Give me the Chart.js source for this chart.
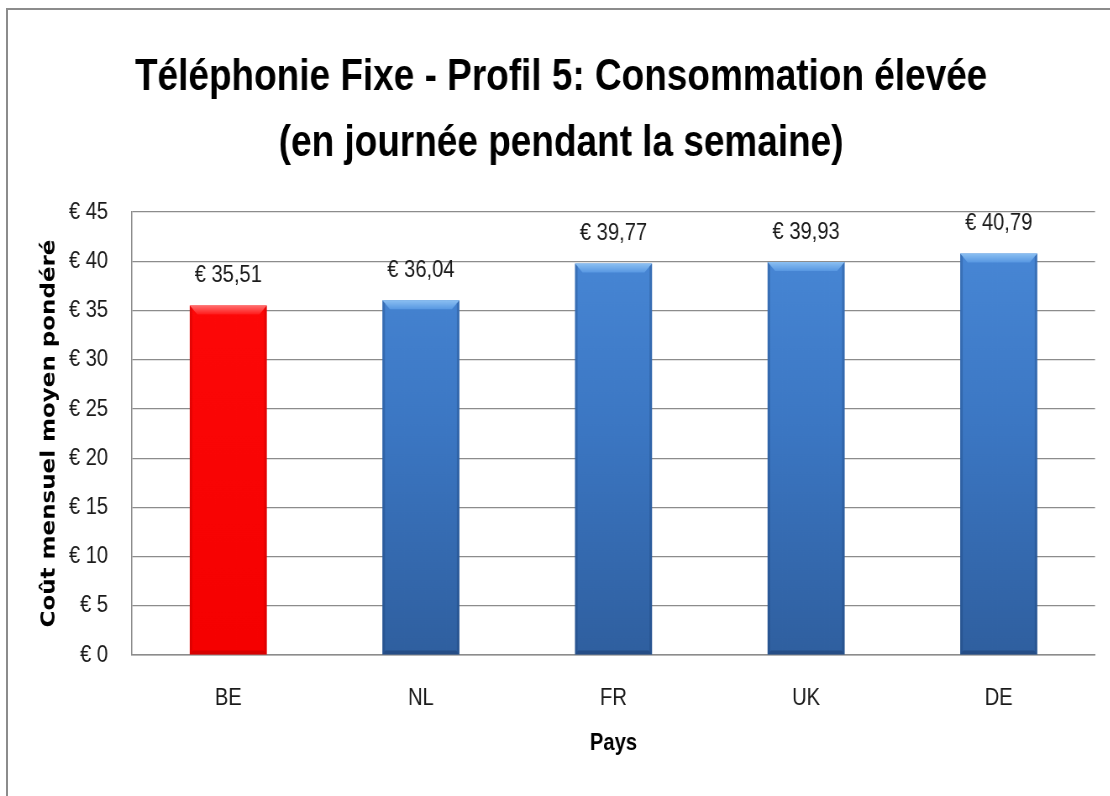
<!DOCTYPE html>
<html>
<head>
<meta charset="utf-8">
<script src="https://cdn.jsdelivr.net/npm/chart.js@4/dist/chart.umd.min.js"></script>
<style>
  html, body { margin: 0; padding: 0; background: #ffffff; }
  #wrap { position: relative; width: 1110px; height: 796px; overflow: hidden; }
  #frame { position: absolute; left: 6px; top: 8px; width: 1200px; height: 900px;
           border-left: 2px solid #8c8c8c; border-top: 2px solid #8c8c8c; }
  canvas { position: absolute; left: 0; top: 0; transform: scaleX(0.84); transform-origin: 0 0; }
</style>
</head>
<body>
<div id="wrap">
  <div id="frame"></div>
  <canvas id="c" width="1336" height="796"></canvas>
</div>
<script>
const categories = ['BE', 'NL', 'FR', 'UK', 'DE'];
const values = [35.51, 36.04, 39.77, 39.93, 40.79];
const highlight = [true, false, false, false, false];
const yTicks = [0, 5, 10, 15, 20, 25, 30, 35, 40, 45];
const titleLines = ['Téléphonie Fixe - Profil 5: Consommation élevée', '(en journée pendant la semaine)'];
const yTitle = 'Coût mensuel moyen pondéré';
const xTitle = 'Pays';

const SANS = "'Liberation Sans', Arial, sans-serif";

function euro(v, dec) {
  return '€ ' + (dec ? v.toFixed(2).replace('.', ',') : String(v));
}

function barFill(ctx) {
  const chart = ctx.chart;
  const area = chart.chartArea;
  if (!area) return '#4080d0';
  const i = ctx.dataIndex;
  const g = chart.ctx.createLinearGradient(0, area.top, 0, area.bottom);
  if (highlight[i]) {
    g.addColorStop(0, '#ff0a0a');
    g.addColorStop(1, '#f50000');
  } else {
    g.addColorStop(0, '#4a8ad9');
    g.addColorStop(0.5, '#3b76c2');
    g.addColorStop(1, '#2f5f9f');
  }
  return g;
}

const bevelPlugin = {
  id: 'bevel',
  afterDatasetsDraw(chart) {
    const c = chart.ctx;
    const meta = chart.getDatasetMeta(0);
    meta.data.forEach((bar, i) => {
      const half = bar.width / 2;
      const x0 = bar.x - half, x1 = bar.x + half;
      const top = bar.y, bot = bar.base;
      const b = 9;
      c.save();
      c.beginPath();
      c.moveTo(x0, top); c.lineTo(x1, top); c.lineTo(x1 - b, top + b); c.lineTo(x0 + b, top + b); c.closePath();
      const gt = c.createLinearGradient(0, top, 0, top + b);
      if (highlight[i]) { gt.addColorStop(0, '#ff7070'); gt.addColorStop(1, '#ff1a1a'); }
      else { gt.addColorStop(0, '#8cc0f2'); gt.addColorStop(1, '#5898e2'); }
      c.fillStyle = gt; c.fill();
      c.fillStyle = highlight[i] ? 'rgba(160,0,0,0.25)' : 'rgba(20,50,100,0.25)';
      c.beginPath(); c.moveTo(x0, top); c.lineTo(x0 + 3, top + 3); c.lineTo(x0 + 3, bot - 3); c.lineTo(x0, bot); c.closePath(); c.fill();
      c.beginPath(); c.moveTo(x1, top); c.lineTo(x1 - 3, top + 3); c.lineTo(x1 - 3, bot - 3); c.lineTo(x1, bot); c.closePath(); c.fill();
      c.fillStyle = highlight[i] ? 'rgba(150,0,0,0.3)' : 'rgba(20,45,90,0.35)';
      c.beginPath(); c.moveTo(x0, bot); c.lineTo(x1, bot); c.lineTo(x1 - 4, bot - 4); c.lineTo(x0 + 4, bot - 4); c.closePath(); c.fill();
      c.restore();
    });
  }
};

const labelPlugin = {
  id: 'valueLabels',
  afterDatasetsDraw(chart) {
    const c = chart.ctx;
    const meta = chart.getDatasetMeta(0);
    c.save();
    c.font = '24px ' + SANS;
    c.fillStyle = '#1a1a1a';
    c.textAlign = 'center';
    c.textBaseline = 'middle';
    meta.data.forEach((bar, i) => {
      c.fillText(euro(values[i], true), bar.x, bar.y - 30);
    });
    c.restore();
  }
};

new Chart(document.getElementById('c'), {
  type: 'bar',
  data: {
    labels: categories,
    datasets: [{
      data: values,
      backgroundColor: barFill,
      borderWidth: 0,
      categoryPercentage: 0.8,
      barPercentage: 0.5
    }]
  },
  plugins: [bevelPlugin, labelPlugin],
  options: {
    responsive: false,
    animation: false,
    layout: { padding: { left: 0, right: 0, top: 0, bottom: 0 } },
    plugins: {
      legend: { display: false },
      tooltip: { enabled: false },
      title: {
        display: true,
        text: titleLines,
        color: '#000000',
        font: { family: SANS, size: 44, weight: 'bold', lineHeight: 1.5 },
        padding: { top: 45, bottom: 35 }
      }
    },
    scales: {
      x: {
        afterFit(scale) { scale.height = 141; },
        grid: { display: false, drawTicks: false },
        border: { display: true, color: '#8c8c8c', width: 1.5 },
        ticks: { color: '#1a1a1a', padding: 29, font: { family: SANS, size: 24, lineHeight: 1.2 } },
        title: {
          display: true, text: xTitle, color: '#000000',
          font: { family: SANS, size: 24, weight: 'bold', lineHeight: 1.2 },
          padding: { top: 16, bottom: 38.6 }
        }
      },
      y: {
        min: 0, max: 45,
        afterFit(scale) { scale.width = 157.1; },
        afterBuildTicks(scale) { scale.ticks = yTicks.map(v => ({ value: v })); },
        grid: { color: '#8c8c8c', lineWidth: 1.2, drawTicks: false },
        border: { display: true, color: '#8c8c8c', width: 1.5 },
        ticks: {
          color: '#1a1a1a', padding: 28.5,
          font: { family: SANS, size: 24, lineHeight: 1.2 },
          callback: (v) => euro(v, false)
        },
        title: {
          display: true, text: yTitle, color: '#000000',
          font: { family: "'DejaVu Sans', Verdana, sans-serif", size: 23, weight: 'bold', lineHeight: 1.2 },
          padding: { top: 45.7, bottom: 0 }
        }
      },
      yRight: {
        type: 'linear',
        position: 'right',
        min: 0, max: 45,
        afterFit(scale) { scale.width = 32.4; },
        grid: { display: false, drawTicks: false },
        border: { display: false },
        ticks: { display: false }
      }
    }
  }
});
</script>
</body>
</html>
